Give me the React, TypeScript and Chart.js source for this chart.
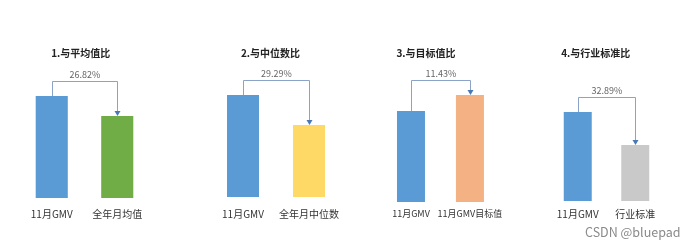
import React, { useEffect, useRef } from "react";
import { Chart, registerables } from "chart.js";

Chart.register(...registerables);

// ---- data ----
const titles = ["1.与平均值比", "2.与中位数比", "3.与目标值比", "4.与行业标准比"];
const baseLabels = ["11月GMV", "11月GMV", "11月GMV", "11月GMV"];
const compareLabels = ["全年月均值", "全年月中位数", "11月GMV目标值", "行业标准"];
const gmvValues = [100, 100, 100, 100];
const compareValues = [80.4, 70.6, 117.6, 62.9];
const percentLabels = ["26.82%", "29.29%", "11.43%", "32.89%"];

// ---- styles ----
const gmvColor = "#5B9BD5";
const compareColors = ["#70AD47", "#FFD966", "#F4B183", "#C9C9C9"];
const FONT = '"Noto Sans CJK SC", "Noto Sans", sans-serif';

// ---- layout per panel ----
const panelLayout = [
  { areaLeft: 19, areaWidth: 131, titleShift: 3.75, baseline: 198, yMax: 125.5, barPct: 0.49, labelSize: 10 },
  { areaLeft: 210, areaWidth: 132, titleShift: 5.5, baseline: 197, yMax: 124.5, barPct: 0.485, labelSize: 10 },
  { areaLeft: 381.5, areaWidth: 118, titleShift: 14.5, baseline: 202, yMax: 145.1, barPct: 0.475, labelSize: 9 },
  { areaLeft: 549, areaWidth: 115, titleShift: 10.75, baseline: 201, yMax: 147.2, barPct: 0.487, labelSize: 10 },
];

const connectorPlugin = {
  id: "connector",
  afterDatasetsDraw(chart: any, _args: any, opts: any) {
    const meta = chart.getDatasetMeta(0);
    if (!meta || meta.data.length < 2) return;
    const a = meta.data[0];
    const b = meta.data[1];
    const x1 = Math.round(a.x) + 0.5, y1 = a.y, x2 = Math.round(b.x) + 0.5, y2 = b.y;
    const lineY = Math.round(Math.min(y1, y2) - (opts.gap ?? 15)) + 0.5;
    const ctx = chart.ctx;
    ctx.save();
    ctx.strokeStyle = opts.color || "#8BA3C7";
    ctx.lineWidth = 1;
    const arrowH = 5;
    ctx.beginPath();
    ctx.moveTo(x1, y1);
    ctx.lineTo(x1, lineY);
    ctx.lineTo(x2, lineY);
    ctx.lineTo(x2, y2 - arrowH);
    ctx.stroke();
    ctx.fillStyle = opts.arrowColor || "#4A78B5";
    ctx.beginPath();
    ctx.moveTo(x2 - 3, y2 - arrowH);
    ctx.lineTo(x2 + 3, y2 - arrowH);
    ctx.lineTo(x2, y2);
    ctx.closePath();
    ctx.fill();
    ctx.fillStyle = opts.textColor || "#666";
    ctx.font = `9px ${FONT}`;
    ctx.textAlign = "center";
    ctx.textBaseline = "middle";
    ctx.fillText(opts.text || "", (x1 + x2) / 2, lineY - 7);
    ctx.restore();
  },
};

function Panel({ index }: { index: number }) {
  const ref = useRef<HTMLCanvasElement>(null);
  const L = panelLayout[index];
  const sideAxis = 2 * L.titleShift;
  const canvasLeft = Math.round(L.areaLeft - 12 - sideAxis);
  const lp = L.areaLeft - canvasLeft - sideAxis;
  const width = Math.round(lp + sideAxis + L.areaWidth + 12);
  const rp = width - lp - sideAxis - L.areaWidth;
  const height = 250;
  const lh = L.labelSize * 1.2;
  const tickPad = 214 - L.baseline - lh / 2;
  const bottomPad = height - L.baseline - 2 * tickPad - lh;

  useEffect(() => {
    if (!ref.current) return;
    const chart = new Chart(ref.current, {
      type: "bar",
      data: {
        labels: [baseLabels[index], compareLabels[index]],
        datasets: [
          {
            data: [gmvValues[index], compareValues[index]],
            backgroundColor: [gmvColor, compareColors[index]],
            borderWidth: 0,
            barPercentage: L.barPct,
            categoryPercentage: 1,
          },
        ],
      },
      options: {
        responsive: false,
        animation: false,
        devicePixelRatio: 1,
        layout: { padding: { left: lp, right: rp, top: 0, bottom: bottomPad } },
        plugins: {
          legend: { display: false },
          tooltip: { enabled: false },
          title: {
            display: true,
            text: titles[index],
            color: "#222",
            font: { family: FONT, size: 10, weight: "bold" },
            padding: { top: 47, bottom: 11 },
          },
          connector: { text: percentLabels[index], gap: 15 },
        } as any,
        scales: {
          x: {
            grid: { display: false, drawTicks: false },
            border: { display: false },
            ticks: {
              padding: tickPad,
              color: "#333",
              font: { family: FONT, size: L.labelSize },
              maxRotation: 0,
              autoSkip: false,
            },
          },
          y: {
            display: true,
            position: "left",
            min: 0,
            max: L.yMax,
            grid: { display: false, drawTicks: false },
            border: { display: false },
            ticks: { display: false },
            afterFit: (s: any) => {
              s.width = sideAxis;
            },
          },
        },
      },
      plugins: [connectorPlugin],
    });
    return () => chart.destroy();
  }, [index]);

  return (
    <canvas
      ref={ref}
      width={width}
      height={height}
      style={{ position: "absolute", left: canvasLeft, top: 0, width, height }}
    />
  );
}

export default function App() {
  return (
    <div
      style={{
        position: "fixed",
        left: 0,
        top: 0,
        width: 692,
        height: 250,
        overflow: "hidden",
        background: "#fff",
      }}
    >
      {titles.map((_, i) => (
        <Panel key={i} index={i} />
      ))}
      <div
        style={{
          position: "absolute",
          left: 585,
          top: 224,
          fontFamily: FONT,
          fontSize: 12.5,
          lineHeight: "16px",
          color: "#8a8a8a",
          whiteSpace: "nowrap",
        }}
      >
        CSDN @bluepad
      </div>
    </div>
  );
}
